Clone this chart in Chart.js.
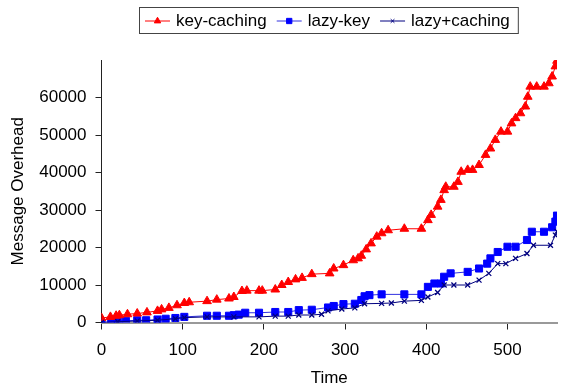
<!DOCTYPE html>
<html>
<head>
<meta charset="utf-8">
<script src="https://cdn.jsdelivr.net/npm/chart.js@4"></script>
<style>
html,body{margin:0;padding:0;background:#fff;}
#wrap{width:563px;height:387px;}
</style>
</head>
<body>
<div id="wrap"><canvas id="c" width="563" height="387"></canvas></div>
<script>
const seriesNames = ["key-caching", "lazy-key", "lazy+caching"];
const xTitle = "Time";
const yTitle = "Message Overhead";

const keyCachingX = [0,11,18,22,32,44,56,69,74,83,93,102,108,130,142,157,163,173,179,194,198,214,222,230,239,247,259,281,286,298,310,316,320,326,332,339,345,353,373,394,402,406,414,418,422,424,434,439,443,451,457,465,473,479,485,492,500,505,510,516,522,525,528,536,545,551,555,559,561];
const keyCachingY = [1200,1500,1800,1950,2200,2400,2700,3100,3500,3900,4600,5200,5400,5700,6100,6400,6800,8400,8500,8500,8500,8800,10000,10800,11500,11900,12900,13100,14400,15300,16600,17100,17800,19500,21100,22900,23800,24600,25000,25000,27300,28700,30900,32700,35300,36200,36200,37500,40200,40700,40700,42000,44700,46400,48700,50900,50900,53100,54500,55800,57600,60200,62900,62900,62900,63800,65600,68300,69800];

const lazyKeyX = [0,12,20,30,44,55,69,79,91,102,130,142,157,163,169,177,194,214,230,243,259,279,286,298,312,320,324,330,345,373,394,402,410,418,422,430,451,465,475,479,488,500,510,524,530,545,555,559,561];
const lazyKeyY = [0,200,350,450,600,600,800,1000,1200,1500,1800,1800,1800,1950,2100,2600,2600,2800,2800,3300,3400,4000,4400,4900,5000,6000,7000,7300,7500,7500,7500,9500,10400,10400,12200,13100,13500,14400,15700,17100,18800,20200,20200,22000,24200,24200,25400,26900,28500];

const lazyCachingX = [0,20,44,69,91,102,130,163,194,214,230,243,259,271,279,296,312,324,345,357,373,394,402,414,422,434,451,465,477,488,498,510,524,532,553,559,561];
const lazyCachingY = [0,200,400,600,1000,1300,1500,1500,1500,1700,1700,2000,2000,2200,3100,3600,3900,5000,5100,5200,5700,5900,6800,8000,10000,10000,10000,11300,13100,15700,15700,17100,18400,20600,20600,23300,24300];

const xTicks = [0,100,200,300,400,500];
const yTicks = [0,10000,20000,30000,40000,50000,60000];

function pts(xs, ys){ return xs.map((x,i)=>({x:x, y:ys[i]})); }

const FONT = "'Liberation Sans', Arial, sans-serif";

const legendPlugin = {
  id: 'lineLegend',
  afterDraw(chart) {
    const ctx = chart.ctx;
    ctx.save();
    ctx.font = "17px " + FONT;
    const boxX = 139, boxY = 7.5, boxH = 26;
    let x = 145;
    const cy = boxY + boxH/2;
    const parts = [];
    chart.data.datasets.forEach((ds) => {
      const w = ctx.measureText(ds.label).width;
      parts.push({ds, lx: x, tx: x + 31, w});
      x += 31 + w + 10;
    });
    const boxW = (x - 10 + 8) - boxX;
    ctx.strokeStyle = '#444';
    ctx.lineWidth = 1;
    ctx.strokeRect(boxX + 0.5, boxY, boxW, boxH);
    parts.forEach(p => {
      const ds = p.ds;
      ctx.strokeStyle = ds.borderColor;
      ctx.lineWidth = 1;
      ctx.beginPath();
      ctx.moveTo(p.lx, cy + 0.5);
      ctx.lineTo(p.lx + 25, cy + 0.5);
      ctx.stroke();
      ctx.fillStyle = ds.pointBackgroundColor;
      ctx.strokeStyle = ds.pointBorderColor;
      Chart.helpers.drawPoint(ctx, {
        pointStyle: ds.pointStyle,
        radius: ds.pointRadius * 0.75,
        borderWidth: 1,
        rotation: 0
      }, p.lx + 12.5, cy + 0.5);
      ctx.fillStyle = '#000';
      ctx.textBaseline = 'middle';
      ctx.textAlign = 'left';
      ctx.fillText(ds.label, p.tx, cy + 1);
    });
    ctx.restore();
  }
};

const chart = new Chart(document.getElementById('c'), {
  type: 'line',
  data: {
    datasets: [
      {
        label: seriesNames[0],
        data: pts(keyCachingX, keyCachingY),
        borderColor: '#ff0000',
        backgroundColor: '#ff0000',
        borderWidth: 1,
        pointStyle: 'triangle',
        pointRadius: 5,
        pointBorderWidth: 1,
        pointBackgroundColor: '#ff0000',
        pointBorderColor: '#ff0000',
        tension: 0,
        order: 2
      },
      {
        label: seriesNames[1],
        data: pts(lazyKeyX, lazyKeyY),
        borderColor: '#3030e0',
        backgroundColor: '#0000ff',
        borderWidth: 1,
        pointStyle: 'rect',
        pointRadius: 5,
        pointBorderWidth: 1,
        pointBackgroundColor: '#0000ff',
        pointBorderColor: '#0000ff',
        tension: 0,
        order: 3
      },
      {
        label: seriesNames[2],
        data: pts(lazyCachingX, lazyCachingY),
        borderColor: '#000080',
        backgroundColor: '#000080',
        borderWidth: 1,
        pointStyle: 'crossRot',
        pointRadius: 3.5,
        pointBorderWidth: 1.3,
        pointBackgroundColor: '#000080',
        pointBorderColor: '#000080',
        tension: 0,
        order: 1
      }
    ]
  },
  options: {
    responsive: false,
    animation: false,
    devicePixelRatio: 1,
    layout: { padding: { top: 60, right: 3, left: 0, bottom: 0 } },
    plugins: {
      legend: { display: false },
      tooltip: { enabled: false }
    },
    scales: {
      x: {
        type: 'linear',
        min: 0,
        max: 561,
        afterFit(scale){ scale.height = 64.5; },
        afterBuildTicks(scale){ scale.ticks = xTicks.map(v=>({value:v})); },
        ticks: { color: '#000', font: { family: FONT, size: 17 }, padding: 11, maxRotation: 0, autoSkip: false },
        grid: { drawOnChartArea: false, drawTicks: true, tickLength: 7, tickColor: '#222', tickWidth: 1 },
        border: { display: true, color: '#999', width: 2 },
        title: { display: true, text: xTitle, color: '#000', font: { family: FONT, size: 17, lineHeight: 1 }, padding: 0 }
      },
      y: {
        type: 'linear',
        min: 0,
        max: 70000,
        afterFit(scale){ scale.width = 101.5; },
        afterBuildTicks(scale){ scale.ticks = yTicks.map(v=>({value:v})); },
        ticks: { color: '#000', font: { family: FONT, size: 17 }, padding: 9, autoSkip: false, callback: v => String(v) },
        grid: { drawOnChartArea: false, drawTicks: true, tickLength: 6, tickColor: '#222', tickWidth: 1 },
        border: { display: true, color: '#222', width: 1 },
        title: { display: true, text: yTitle, color: '#000', font: { family: FONT, size: 17, lineHeight: 1 }, padding: { top: 10, bottom: 0 } }
      }
    }
  },
  plugins: [legendPlugin]
});
</script>
</body>
</html>
